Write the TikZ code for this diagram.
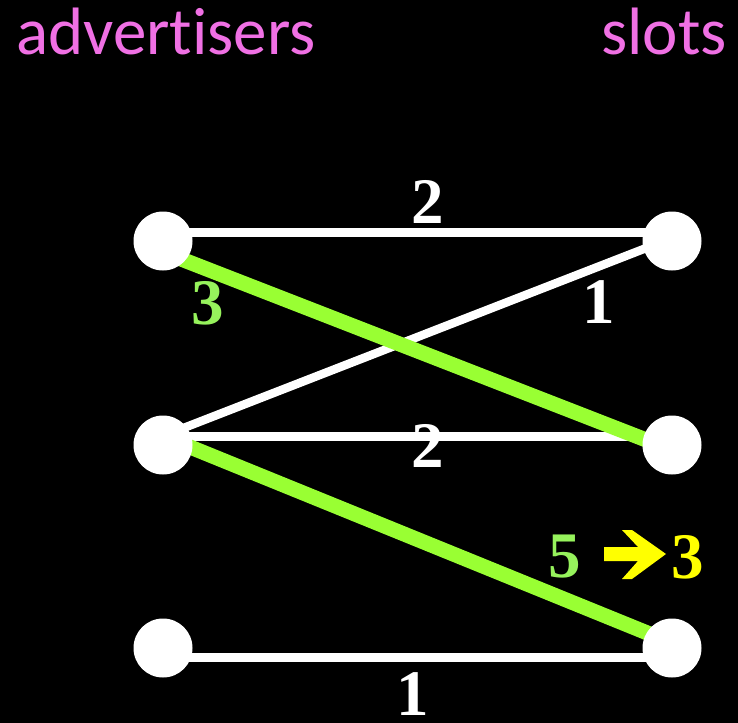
\documentclass[tikz,border=0pt]{standalone}
\usepackage{fontspec}
\setmainfont{Liberation Serif}
\newfontfamily\headfont[Ligatures=NoCommon]{Carlito}
\usepackage{xcolor}
\usetikzlibrary{backgrounds}

\definecolor{headpink}{RGB}{240,112,228}
\definecolor{matchgreen}{RGB}{153,255,51}
\definecolor{wgreen}{RGB}{150,242,92}
\definecolor{wyellow}{RGB}{255,255,0}

\begin{document}
\begin{tikzpicture}[x=1bp, y=-1bp,
  vert/.style={circle, fill=white, minimum size=59bp, inner sep=0pt},
  head/.style={font=\headfont\fontsize{67bp}{67bp}\selectfont, text=headpink, inner sep=0pt},
  wt/.style={font=\bfseries\fontsize{65bp}{65bp}\selectfont, text=white, inner sep=0pt},
  wire/.style={draw=white, line width=8.5bp},
  match/.style={draw=matchgreen, line width=15bp}]
  % advertisers and slots
  \foreach \i/\y in {1/241,2/445,3/648} {
    \node[vert] (a\i) at (163,\y) {};
    \node[vert] (s\i) at (672,\y) {};
  }
  \node[head, anchor=base west] (adv) at (16,55) {advertisers};
  \node[head, anchor=base east] (slt) at (727,55) {slots};
  \begin{scope}[on background layer]
    \fill[black] (0,0) rectangle (738,723);
    \foreach \u/\v/\du/\dv in {a1/s1/8.5/8.5, a2/s1/9/3, a2/s2/8.5/8.5, a3/s3/-9.5/-9.5}
      \draw[wire] ([yshift=\du bp]\u.center) -- ([yshift=\dv bp]\v.center);
    \foreach \u/\v/\du/\dv in {a1/s2/-11/-5, a2/s3/9/5}
      \draw[match] ([yshift=\du bp]\u.center) -- ([yshift=\dv bp]\v.center);
  \end{scope}
  % weights
  \node[wt] (w11) at (428,202) {2};
  \node[wt, text=wgreen] (w12) at (208,303) {3};
  \node[wt] (w21) at (599,302) {1};
  \node[wt] (w22) at (428,446) {2};
  \node[wt, text=wgreen] (w23) at (565,557) {5};
  \node[wt, text=wyellow] (new) at (688,557) {3};
  \node[wt] (w33) at (413,694) {1};
  \fill[wyellow] (604,547) -- (638,547) -- (622,530) -- (632,530) -- (666,554)
    -- (632,579) -- (622,579) -- (638,561) -- (604,561) -- cycle;
\end{tikzpicture}
\end{document}
